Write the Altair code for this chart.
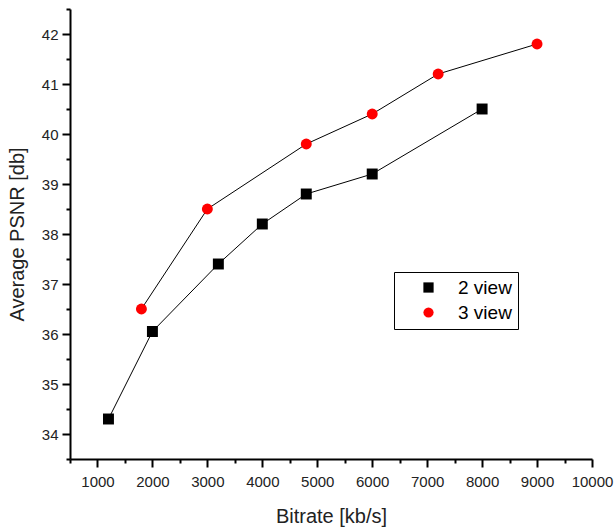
import altair as alt
import pandas as pd

# Data
bitrate_2view = [1200, 2000, 3200, 4000, 4800, 6000, 8000]
psnr_2view = [34.3, 36.05, 37.4, 38.2, 38.8, 39.2, 40.5]
bitrate_3view = [1800, 3000, 4800, 6000, 7200, 9000]
psnr_3view = [36.5, 38.5, 39.8, 40.4, 41.2, 41.8]
series_names = ["2 view", "3 view"]
x_ticks = [v * 500 for v in range(1, 21)]
y_ticks = [33.5 + 0.5 * i for i in range(19)]

df = pd.DataFrame(
    {
        "bitrate": bitrate_2view + bitrate_3view,
        "psnr": psnr_2view + psnr_3view,
        "series": [series_names[0]] * len(bitrate_2view) + [series_names[1]] * len(bitrate_3view),
    }
)

FONT = "Liberation Sans"

x_enc = alt.X(
    "bitrate:Q",
    scale=alt.Scale(domain=[500, 10000], nice=False, zero=False),
    axis=alt.Axis(
        title="Bitrate [kb/s]",
        values=x_ticks,
        labelExpr="datum.value % 1000 === 0 ? format(datum.value, 'd') : ''",
        labelOverlap=False,
        labelFlush=False,
        tickSize={"condition": {"test": "datum.value % 1000 !== 0", "value": 4}, "value": 8},
        grid=False,
        labelPadding=7,
        titleBaseline="middle",
        titleY=57,
    ),
)
y_enc = alt.Y(
    "psnr:Q",
    scale=alt.Scale(domain=[33.5, 42.5], nice=False, zero=False),
    axis=alt.Axis(
        title="Average PSNR [db]",
        values=y_ticks,
        labelExpr="datum.value % 1 === 0 ? format(datum.value, 'd') : ''",
        labelOverlap=False,
        labelFlush=False,
        tickSize={"condition": {"test": "datum.value % 1 !== 0", "value": 4}, "value": 8},
        grid=False,
        labelPadding=4,
        titleBaseline="middle",
        titleX=-53,
    ),
)

lines = alt.Chart(df).mark_line(color="black", strokeWidth=1).encode(
    x=x_enc, y=y_enc, detail="series:N"
)

legend_props = dict(
    title=None,
    orient="none",
    legendX=324,
    legendY=263,
    strokeColor="black",
    fillColor="white",
    padding=6,
    symbolOffset=19,
    labelOffset=20,
    labelFontSize=19,
    labelFont=FONT,
    labelColor="black",
    rowPadding=5,
    symbolSize=105,
    symbolStrokeWidth=0,
)

points = alt.Chart(df).mark_point(filled=True, opacity=1, size=120).encode(
    x=x_enc,
    y=y_enc,
    color=alt.Color(
        "series:N",
        scale=alt.Scale(domain=series_names, range=["black", "red"]),
        legend=alt.Legend(**legend_props),
    ),
    shape=alt.Shape(
        "series:N",
        scale=alt.Scale(domain=series_names, range=["square", "circle"]),
        legend=alt.Legend(**legend_props),
    ),
)

chart = (
    alt.layer(lines, points)
    .properties(
        width=522,
        height=450,
        autosize=alt.AutoSizeParams(type="none"),
        padding={"left": 70, "top": 9, "right": 23, "bottom": 69},
        background="white",
    )
    .configure_view(stroke=None)
    .configure_axis(
        domainColor="black",
        domainWidth=2,
        tickColor="black",
        tickWidth=2,
        labelFont=FONT,
        labelFontSize=15,
        labelColor="#222222",
        titleFont=FONT,
        titleFontSize=20,
        titleFontWeight="normal",
        titleColor="#222222",
    )
)

chart.save("out.html", embed_options={"renderer": "svg", "actions": False})
